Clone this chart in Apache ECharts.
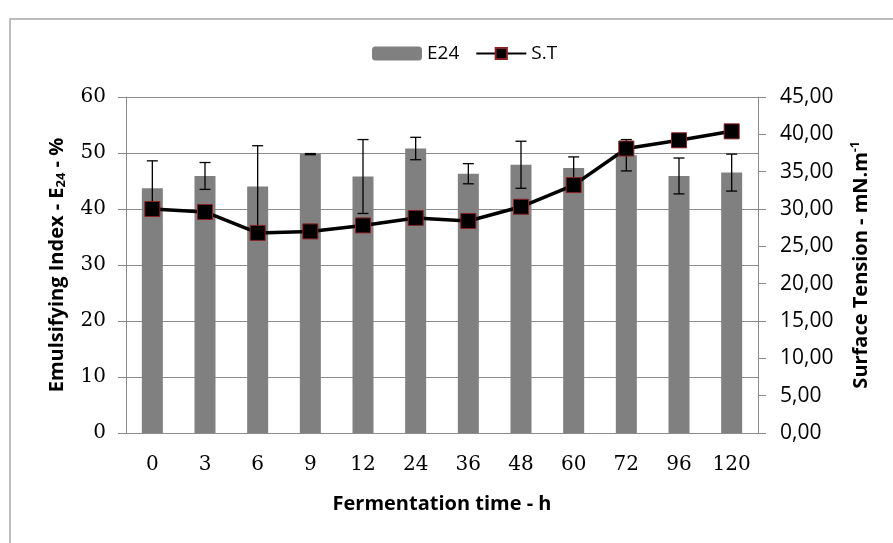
<!DOCTYPE html>
<html>
<head>
<meta charset="utf-8">
<script src="https://cdn.jsdelivr.net/npm/echarts@6/dist/echarts.min.js"></script>
<style>
  html, body { margin: 0; padding: 0; background: #fff; }
  #chart { width: 893px; height: 543px; }
</style>
</head>
<body>
<div id="chart"></div>
<script>
// fermentation times (h)
const times = ["0", "3", "6", "9", "12", "24", "36", "48", "60", "72", "96", "120"];
// emulsifying index E24 (%) and its std dev
const e24 = [43.7, 45.9, 44.0, 49.8, 45.8, 50.8, 46.3, 47.9, 47.3, 49.6, 45.9, 46.5];
const e24Err = [4.9, 2.4, 7.3, 0.1, 6.6, 2.0, 1.8, 4.2, 2.0, 2.8, 3.2, 3.3];
// surface tension (mN/m)
const surfTension = [30.0, 29.6, 26.8, 27.0, 27.8, 28.8, 28.4, 30.3, 33.2, 38.1, 39.2, 40.4];

const errData = e24.map((v, i) => [i, v - e24Err[i], v + e24Err[i]]);

const gridGray = "#8c8c8c";
const axisLine = { lineStyle: { color: gridGray, width: 1 } };
const axisTick = { length: 8, lineStyle: { color: gridGray } };

const chart = echarts.init(document.getElementById("chart"));
chart.setOption({
  backgroundColor: "#fff",
  animation: false,
  graphic: [{
    type: "rect",
    shape: { x: 10, y: 19, width: 900, height: 540 },
    style: { fill: "none", stroke: "#a8a8a8", lineWidth: 1.5 },
    silent: true
  }],
  legend: {
    left: 367,
    top: 39,
    itemWidth: 50,
    itemHeight: 14,
    itemGap: 16,
    data: ["E24", "S.T"],
    textStyle: { fontFamily: "Open Sans", fontSize: 19, color: "#000" }
  },
  grid: { left: 126, right: 135, top: 97, bottom: 110 },
  xAxis: {
    type: "category",
    data: times,
    name: "Fermentation time - h",
    nameLocation: "middle",
    nameGap: 61,
    nameTextStyle: { fontFamily: "Open Sans", fontWeight: "bold", fontSize: 20, color: "#000" },
    axisLine: axisLine,
    axisTick: axisTick,
    axisLabel: { fontFamily: "DejaVu Serif", fontSize: 20, color: "#000", margin: 22 }
  },
  yAxis: [
    {
      type: "value",
      min: 0,
      max: 60,
      interval: 10,
      name: "Emulsifying Index - E{sub|24} - %",
      nameLocation: "middle",
      nameRotate: 90,
      nameGap: 58,
      nameTextStyle: {
        fontFamily: "Open Sans", fontWeight: "bold", fontSize: 20, color: "#000",
        rich: { sub: { fontFamily: "Open Sans", fontWeight: "bold", fontSize: 13, padding: [9, 0, 0, 0] } }
      },
      axisLine: { show: true, lineStyle: { color: gridGray } },
      axisTick: { show: true, length: 8, lineStyle: { color: gridGray } },
      axisLabel: { fontFamily: "DejaVu Serif", fontSize: 20, color: "#000", margin: 20 },
      splitLine: { lineStyle: { color: gridGray, width: 1 } }
    },
    {
      type: "value",
      position: "right",
      min: 0,
      max: 45,
      interval: 5,
      name: "Surface Tension - mN.m{sup|-1}",
      nameLocation: "middle",
      nameRotate: 90,
      nameGap: 92,
      nameTextStyle: {
        fontFamily: "Open Sans", fontWeight: "bold", fontSize: 20, color: "#000",
        rich: { sup: { fontFamily: "Open Sans", fontWeight: "bold", fontSize: 12, padding: [0, 0, 10, 0] } }
      },
      axisLine: { show: true, lineStyle: { color: gridGray } },
      axisTick: { show: true, length: 8, lineStyle: { color: gridGray } },
      axisLabel: {
        fontFamily: "Open Sans", fontSize: 21, color: "#000", margin: 22,
        formatter: v => v.toFixed(2).replace(".", ",")
      },
      splitLine: { show: false }
    }
  ],
  series: [
    {
      name: "E24",
      type: "bar",
      data: e24,
      barWidth: 21,
      itemStyle: { color: "#808080" },
      z: 2
    },
    {
      name: "E24 error",
      type: "custom",
      data: errData,
      z: 3,
      renderItem: function (params, api) {
        const lo = api.coord([api.value(0), api.value(1)]);
        const hi = api.coord([api.value(0), api.value(2)]);
        const cap = 5.5;
        const st = { stroke: "#000", lineWidth: 1.3 };
        return {
          type: "group",
          children: [
            { type: "line", shape: { x1: hi[0], y1: hi[1], x2: lo[0], y2: lo[1] }, style: st },
            { type: "line", shape: { x1: hi[0] - cap, y1: hi[1], x2: hi[0] + cap, y2: hi[1] }, style: st },
            { type: "line", shape: { x1: lo[0] - cap, y1: lo[1], x2: lo[0] + cap, y2: lo[1] }, style: st }
          ]
        };
      }
    },
    {
      name: "S.T",
      type: "line",
      yAxisIndex: 1,
      data: surfTension,
      symbol: "rect",
      symbolSize: 15,
      lineStyle: { color: "#000", width: 3.5 },
      itemStyle: { color: "#000", borderColor: "#8b2020", borderWidth: 1 },
      z: 5
    }
  ]
});
</script>
</body>
</html>
